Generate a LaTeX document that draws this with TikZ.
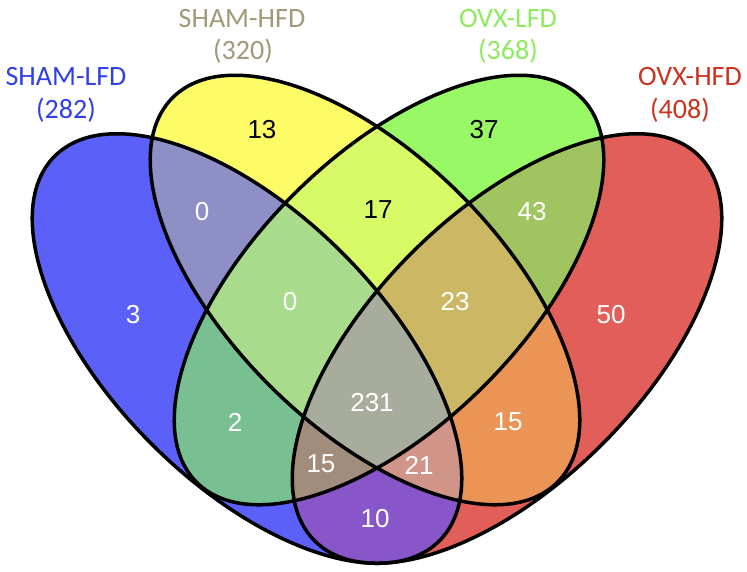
\documentclass[tikz,border=0pt]{standalone}
\usepackage{fontspec}
\setmainfont{Liberation Sans}
\newfontfamily\labfont{Carlito}
\definecolor{cA}{RGB}{90,96,248}
\definecolor{cB}{RGB}{254,252,102}
\definecolor{cC}{RGB}{152,248,102}
\definecolor{cD}{RGB}{226,94,88}
\definecolor{cAB}{RGB}{143,143,200}
\definecolor{cAC}{RGB}{120,192,146}
\definecolor{cAD}{RGB}{136,86,200}
\definecolor{cBC}{RGB}{216,250,102}
\definecolor{cBD}{RGB}{234,148,86}
\definecolor{cCD}{RGB}{160,196,96}
\definecolor{cABC}{RGB}{168,220,140}
\definecolor{cABD}{RGB}{208,148,136}
\definecolor{cACD}{RGB}{162,140,124}
\definecolor{cBCD}{RGB}{204,184,100}
\definecolor{cABCD}{RGB}{168,172,156}
\definecolor{tA}{RGB}{48,64,228}
\definecolor{tB}{RGB}{160,154,120}
\definecolor{tC}{RGB}{140,236,92}
\definecolor{tD}{RGB}{200,52,32}
\tikzset{
  eA/.style={shift={(247,348.5)},rotate=-45},
  eB/.style={shift={(365,290)},rotate=-45},
  eC/.style={shift={(389,290)},rotate=45},
  eD/.style={shift={(507,348.5)},rotate=45},
  outline/.style={draw=black,line width=3.5pt},
  num/.style={font=\fontsize{26}{28}\selectfont,text=white,inner sep=0pt},
  numdark/.style={num,text=black},
  lab/.style={font=\labfont\fontsize{28}{30}\selectfont,anchor=base,inner sep=0pt},
}
\newcommand\vshape[2]{\path[#1,#2] (0,0) ellipse [x radius=272pt, y radius=135pt];}
\begin{document}
\begin{tikzpicture}[x=1pt,y=-1pt]
\useasboundingbox[fill=white] (0,0) rectangle (747,571);
% single sets
\vshape{eA}{fill=cA}
\vshape{eB}{fill=cB}
\vshape{eC}{fill=cC}
\vshape{eD}{fill=cD}
% pairs
\begin{scope}\vshape{eA}{clip}\vshape{eB}{fill=cAB}\end{scope}
\begin{scope}\vshape{eA}{clip}\vshape{eC}{fill=cAC}\end{scope}
\begin{scope}\vshape{eA}{clip}\vshape{eD}{fill=cAD}\end{scope}
\begin{scope}\vshape{eB}{clip}\vshape{eC}{fill=cBC}\end{scope}
\begin{scope}\vshape{eB}{clip}\vshape{eD}{fill=cBD}\end{scope}
\begin{scope}\vshape{eC}{clip}\vshape{eD}{fill=cCD}\end{scope}
% triples
\begin{scope}\vshape{eA}{clip}\vshape{eB}{clip}\vshape{eC}{fill=cABC}\end{scope}
\begin{scope}\vshape{eA}{clip}\vshape{eB}{clip}\vshape{eD}{fill=cABD}\end{scope}
\begin{scope}\vshape{eA}{clip}\vshape{eC}{clip}\vshape{eD}{fill=cACD}\end{scope}
\begin{scope}\vshape{eB}{clip}\vshape{eC}{clip}\vshape{eD}{fill=cBCD}\end{scope}
% all four
\begin{scope}\vshape{eA}{clip}\vshape{eB}{clip}\vshape{eC}{clip}\vshape{eD}{fill=cABCD}\end{scope}
% outlines
\vshape{eA}{outline}
\vshape{eB}{outline}
\vshape{eC}{outline}
\vshape{eD}{outline}
% set labels
\node[lab,text=tA] (labA) at (66,85) {SHAM-LFD};
\node[lab,text=tA] (numA) at (66,118) {(282)};
\node[lab,text=tB] (labB) at (242,27) {SHAM-HFD};
\node[lab,text=tB] (numB) at (243,59) {(320)};
\node[lab,text=tC] (labC) at (508,27) {OVX-LFD};
\node[lab,text=tC] (numC) at (508,59) {(368)};
\node[lab,text=tD] (labD) at (690,85) {OVX-HFD};
\node[lab,text=tD] (numD) at (680,118) {(408)};
% region counts
\node[num] (rA) at (133,315) {3};
\node[numdark] (rB) at (262,130) {13};
\node[numdark] (rC) at (484,130) {37};
\node[num] (rD) at (611,315) {50};
\node[num] (rAB) at (202,212) {0};
\node[numdark] (rBC) at (378,210) {17};
\node[num] (rCD) at (532,212) {43};
\node[num] (rABC) at (290,302) {0};
\node[num] (rBCD) at (455,302) {23};
\node[num] (rAC) at (235,422) {2};
\node[num] (rABCD) at (372,403) {231};
\node[num] (rBD) at (508,422) {15};
\node[num] (rACD) at (321,464) {15};
\node[num] (rABD) at (419,465) {21};
\node[num] (rAD) at (375,519) {10};
\end{tikzpicture}
\end{document}
